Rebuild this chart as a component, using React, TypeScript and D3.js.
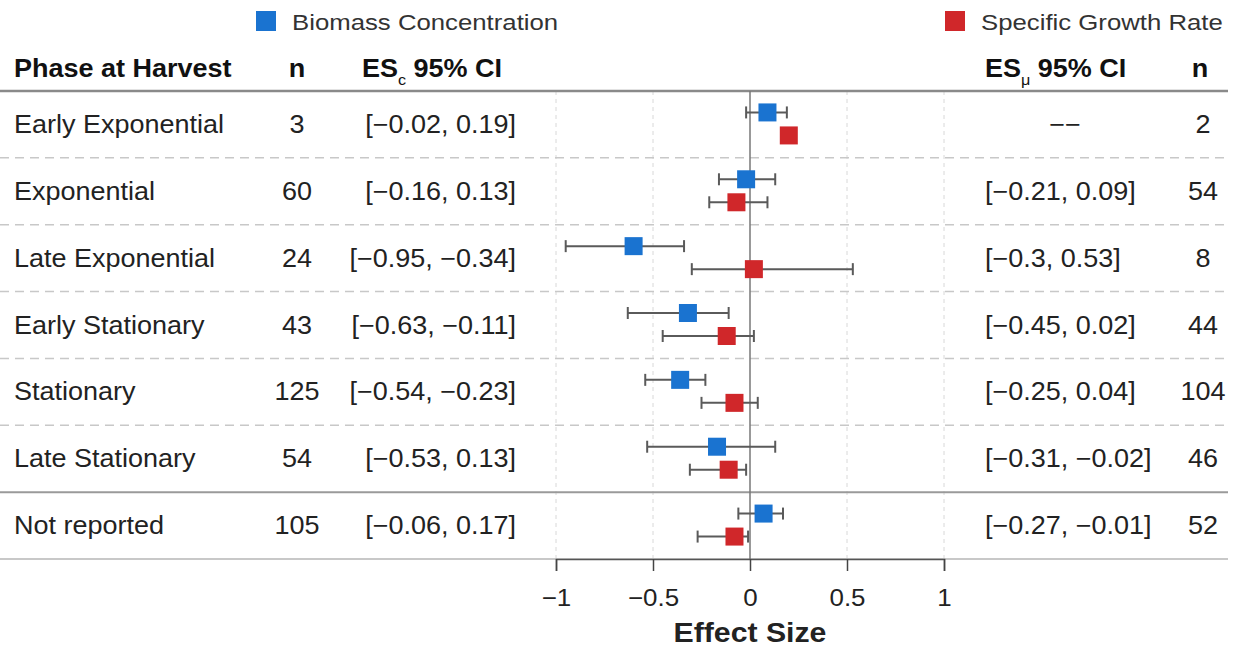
import { useEffect, useRef } from "react";
import * as d3 from "d3";

const phases = [
  "Early Exponential",
  "Exponential",
  "Late Exponential",
  "Early Stationary",
  "Stationary",
  "Late Stationary",
  "Not reported",
];
const nBiomass = [3, 60, 24, 43, 125, 54, 105];
const nGrowth = [2, 54, 8, 44, 104, 46, 52];
const biomassEst = [0.09, -0.02, -0.6, -0.32, -0.36, -0.17, 0.07];
const biomassLo = [-0.02, -0.16, -0.95, -0.63, -0.54, -0.53, -0.06];
const biomassHi = [0.19, 0.13, -0.34, -0.11, -0.23, 0.13, 0.17];
const growthEst = [0.2, -0.07, 0.02, -0.12, -0.08, -0.11, -0.08];
const growthLo: (number | null)[] = [null, -0.21, -0.3, -0.45, -0.25, -0.31, -0.27];
const growthHi: (number | null)[] = [null, 0.09, 0.53, 0.02, 0.04, -0.02, -0.01];
const xTicks = [-1, -0.5, 0, 0.5, 1];

const W = 1235;
const H = 647;
const BLUE = "#1a73d0";
const RED = "#d0272a";
const FONT = "'Liberation Sans', Arial, sans-serif";
const SX = 1.08; // text in the original is a bit wider than Arial

const fmt = (v: number) => String(v).replace("-", "\u2212");
const ciText = (lo: number | null, hi: number | null) =>
  lo == null || hi == null ? "\u2212\u2212" : `[${fmt(lo)}, ${fmt(hi)}]`;

export default function App() {
  const ref = useRef<SVGSVGElement>(null);

  useEffect(() => {
    const svg = d3.select(ref.current);
    svg.selectAll("*").remove();
    svg.attr("font-family", FONT);

    const x = d3.scaleLinear().domain([-1, 1]).range([556, 944]);
    const y = d3.scaleBand().domain(phases).range([91, 559]);
    const rh = y.bandwidth();

    const label = (g: any, px: number, py: number, s: string | number, anchor = "start", sx = SX) =>
      g
        .append("text")
        .attr("transform", `translate(${px},${py}) scale(${sx},1)`)
        .attr("text-anchor", anchor)
        .text(s);

    // vertical grid
    svg
      .append("g")
      .selectAll("line")
      .data(xTicks.filter((t) => t !== 0))
      .join("line")
      .attr("x1", (d) => x(d))
      .attr("x2", (d) => x(d))
      .attr("y1", 91)
      .attr("y2", 559)
      .attr("stroke", "#d8d8d8")
      .attr("stroke-width", 1)
      .attr("stroke-dasharray", "4,4");

    // row separators
    svg
      .append("g")
      .selectAll("line")
      .data(phases.slice(1))
      .join("line")
      .attr("x1", 0)
      .attr("x2", 1228)
      .attr("y1", (d) => y(d)!)
      .attr("y2", (d) => y(d)!)
      .attr("stroke", (d) => (d === "Not reported" ? "#9a9a9a" : "#c8c8c8"))
      .attr("stroke-width", (d) => (d === "Not reported" ? 2 : 1.5))
      .attr("stroke-dasharray", (d) => (d === "Not reported" ? null : "9,6"));

    // header line and bottom line
    svg.append("line").attr("x1", 0).attr("x2", 1228).attr("y1", 91).attr("y2", 91)
      .attr("stroke", "#8a8a8a").attr("stroke-width", 2.5);
    svg.append("line").attr("x1", 0).attr("x2", 1228).attr("y1", 559).attr("y2", 559)
      .attr("stroke", "#c8c8c8").attr("stroke-width", 2);

    // zero line
    svg.append("line").attr("x1", x(0)).attr("x2", x(0)).attr("y1", 91).attr("y2", 559)
      .attr("stroke", "#777").attr("stroke-width", 1.5);

    // axis
    const ax = svg
      .append("g")
      .attr("transform", "translate(0,559)")
      .call(d3.axisBottom(x).tickValues(xTicks).tickSize(12).tickPadding(12).tickFormat((d) => fmt(+d)));
    ax.select(".domain").attr("stroke", "#555").attr("stroke-width", 1.5);
    ax.selectAll(".tick line").attr("stroke", "#444").attr("stroke-width", 1.5);
    ax.selectAll(".tick text")
      .attr("font-size", 24)
      .attr("fill", "#222")
      .attr("font-family", FONT)
      .attr("dy", null)
      .attr("y", 47)
      .attr("transform", `scale(${SX},1)`);
    const xl = label(svg, x(0), 642, "Effect Size", "middle");
    xl.attr("font-size", 28).attr("font-weight", "bold").attr("fill", "#222");

    // error bars + markers
    const series = [
      { est: biomassEst, lo: biomassLo, hi: biomassHi, color: BLUE, dy: -12 },
      { est: growthEst, lo: growthLo, hi: growthHi, color: RED, dy: 11 },
    ];
    series.forEach((s) => {
      const g = svg.append("g");
      phases.forEach((p, i) => {
        const cy = y(p)! + rh / 2 + s.dy;
        const lo = s.lo[i];
        const hi = s.hi[i];
        if (lo != null && hi != null) {
          g.append("line").attr("x1", x(lo)).attr("x2", x(hi)).attr("y1", cy).attr("y2", cy)
            .attr("stroke", "#5a5a5a").attr("stroke-width", 2);
          [lo, hi].forEach((v) =>
            g.append("line").attr("x1", x(v)).attr("x2", x(v)).attr("y1", cy - 6).attr("y2", cy + 6)
              .attr("stroke", "#5a5a5a").attr("stroke-width", 2)
          );
        }
        g.append("rect").attr("x", x(s.est[i]) - 9).attr("y", cy - 9).attr("width", 18).attr("height", 18)
          .attr("fill", s.color);
      });
    });

    // table text
    const txt = svg.append("g").attr("font-size", 25).attr("fill", "#222");
    phases.forEach((p, i) => {
      const cy = y(p)! + rh / 2 + 8.5;
      label(txt, 14, cy, p);
      label(txt, 297, cy, nBiomass[i], "middle");
      label(txt, 516, cy, ciText(biomassLo[i], biomassHi[i]), "end");
      const gt = ciText(growthLo[i], growthHi[i]);
      if (gt.startsWith("[")) label(txt, 985, cy, gt);
      else label(txt, 1065, cy, gt, "middle");
      label(txt, 1203, cy, nGrowth[i], "middle");
    });

    // header
    const hd = svg.append("g").attr("font-size", 25).attr("font-weight", "bold").attr("fill", "#111");
    label(hd, 14, 77, "Phase at Harvest");
    label(hd, 297, 77, "n", "middle");
    label(hd, 1200, 77, "n", "middle");
    [
      { x0: 362, sub: "c" },
      { x0: 985, sub: "\u03bc" },
    ].forEach((h) => {
      const t = hd.append("text").attr("transform", `translate(${h.x0},77) scale(${SX},1)`);
      t.append("tspan").text("ES");
      t.append("tspan").attr("font-size", 15).attr("font-weight", "normal").attr("dy", 8).text(h.sub);
      t.append("tspan").attr("dy", -8).text(" 95% CI");
    });

    // legend
    const legend = [
      { label: "Biomass Concentration", color: BLUE, x0: 256 },
      { label: "Specific Growth Rate", color: RED, x0: 945 },
    ];
    legend.forEach((l) => {
      svg.append("rect").attr("x", l.x0).attr("y", 11).attr("width", 20).attr("height", 20).attr("fill", l.color);
      const t = label(svg, l.x0 + 36, 29.5, l.label, "start", 1.12);
      t.attr("font-size", 23).attr("fill", "#333");
    });
  }, []);

  return (
    <div style={{ position: "absolute", left: 0, top: 0 }}>
      <svg ref={ref} width={W} height={H} style={{ display: "block", background: "#fff" }} />
    </div>
  );
}
